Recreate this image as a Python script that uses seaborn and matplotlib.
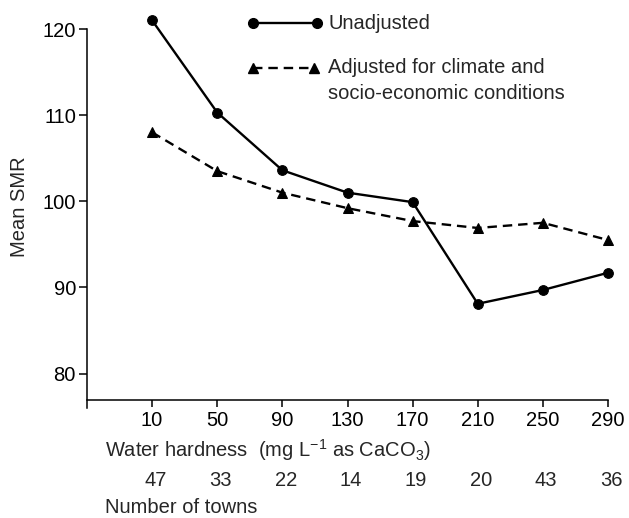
import matplotlib
matplotlib.use("Agg")
import matplotlib.pyplot as plt
import seaborn as sns
import numpy as np
import pandas as pd
from matplotlib.lines import Line2D
import matplotlib.transforms as mtransforms

hardness = [10, 50, 90, 130, 170, 210, 250, 290]
unadjusted = [121.0, 110.3, 103.6, 101.0, 99.9, 88.1, 89.7, 91.7]
adjusted = [108.0, 103.5, 101.0, 99.2, 97.7, 96.9, 97.5, 95.5]
towns = [47, 33, 22, 14, 19, 20, 43, 36]
yticks = [80, 90, 100, 110, 120]

sns.set_style("ticks")
plt.rcParams['font.family'] = ['Liberation Sans', 'DejaVu Sans']
plt.rcParams['mathtext.fontset'] = 'custom'
plt.rcParams['mathtext.rm'] = 'Liberation Sans'
plt.rcParams['mathtext.it'] = 'Liberation Sans:italic'
plt.rcParams['mathtext.bf'] = 'Liberation Sans:bold'

FS = 14.5
H = 518.0
W = 629.0
fig = plt.figure(figsize=(6.29, 5.18), dpi=100)
ax = fig.add_axes([87/W, 1-408/H, (608-87)/W, (408-29)/H])

df = pd.DataFrame({"hardness": hardness, "unadjusted": unadjusted, "adjusted": adjusted})

sns.lineplot(data=df, x="hardness", y="unadjusted", ax=ax, color="black",
             lw=1.7, marker="o", markersize=7, mec="black", mfc="black", clip_on=False)
sns.lineplot(data=df, x="hardness", y="adjusted", ax=ax, color="black",
             lw=1.7, linestyle=(0, (4, 2.5)), marker="^", markersize=7, mec="black",
             mfc="black", clip_on=False)

ax.set_xlim(-30, 290)
ax.set_ylim(76, 120)
ax.spines['top'].set_visible(False)
ax.spines['right'].set_visible(False)
ax.spines['left'].set_bounds(76, 120)
ax.spines['bottom'].set_position(('data', 76.9))
for s in ['left', 'bottom']:
    ax.spines[s].set_linewidth(1.1)
    ax.spines[s].set_color('black')

ax.set_xticks(hardness)
ax.set_xticklabels([str(h) for h in hardness], fontsize=FS)
ax.set_yticks(yticks)
ax.set_yticklabels([str(v) for v in yticks], fontsize=FS)
ax.tick_params(axis='y', direction='out', length=6, width=1.1, pad=2, colors='black')
ax.tick_params(axis='x', direction='out', length=5, width=1.1, pad=3, colors='black')
ax.set_xlabel("")
ax.set_ylabel("Mean SMR", fontsize=FS)
ax.yaxis.set_label_coords((29-87)/(608-87), (408-207)/(408-29))

# town counts under the axis
trans = mtransforms.blended_transform_factory(ax.transData, fig.transFigure)
for h, n in zip(hardness, towns):
    ax.text(h + 2, 1 - 486/H, str(n), transform=trans, ha='center', va='baseline',
            fontsize=FS, clip_on=False)

fig.text(105/W, 1 - 457/H, "Water hardness  (mg L$^{\\mathregular{-1}}$ as CaCO$_{\\mathregular{3}}$)",
         ha='left', va='baseline', fontsize=FS)
fig.text(105/W, 1 - 513/H, "Number of towns", ha='left', va='baseline', fontsize=FS)

# legend
fig.add_artist(Line2D([253/W, 317/W], [1 - 23/H, 1 - 23/H], transform=fig.transFigure,
                      color='black', lw=1.7, marker='o', markersize=7))
fig.add_artist(Line2D([253/W, 314/W], [1 - 68/H, 1 - 68/H], transform=fig.transFigure,
                      color='black', lw=1.7, linestyle=(0, (4, 2.5)), marker='^', markersize=7))
fig.text(328/W, 1 - 29/H, "Unadjusted", ha='left', va='baseline', fontsize=FS)
fig.text(328/W, 1 - 73/H, "Adjusted for climate and", ha='left', va='baseline', fontsize=FS)
fig.text(328/W, 1 - 99/H, "socio-economic conditions", ha='left', va='baseline', fontsize=FS)

fig.savefig("out.png", dpi=100)
